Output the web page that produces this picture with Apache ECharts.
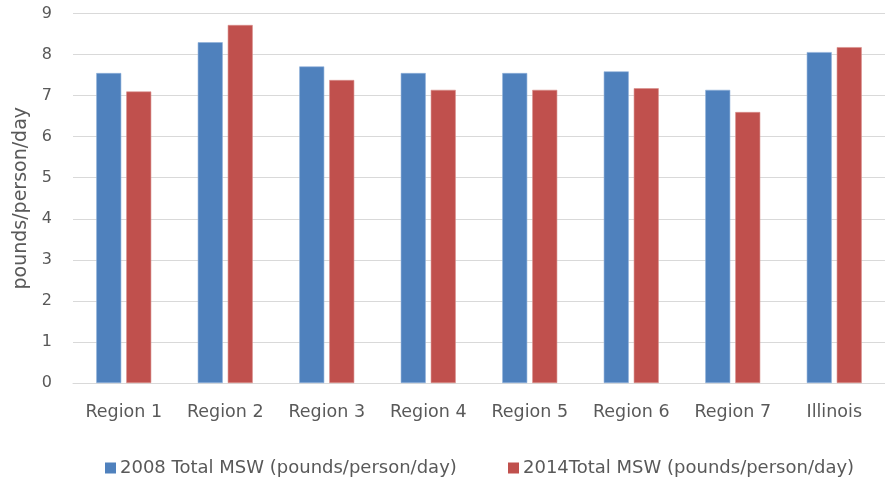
<!DOCTYPE html>
<html>
<head>
<meta charset="utf-8">
<script src="https://cdn.jsdelivr.net/npm/echarts@6/dist/echarts.min.js"></script>
<style>
  html, body { margin: 0; padding: 0; background: #fff; }
  #chart { width: 885px; height: 481px; }
</style>
</head>
<body>
<div id="chart"></div>
<script>
// Municipal solid waste generation by region
const categories = ['Region 1', 'Region 2', 'Region 3', 'Region 4', 'Region 5', 'Region 6', 'Region 7', 'Illinois'];
const msw2008 = [7.55, 8.30, 7.71, 7.55, 7.55, 7.59, 7.14, 8.06];
const msw2014 = [7.10, 8.72, 7.38, 7.14, 7.14, 7.18, 6.60, 8.18];
const seriesNames = ['2008 Total MSW (pounds/person/day)', '2014Total MSW (pounds/person/day)'];
const yTicks = [0, 1, 2, 3, 4, 5, 6, 7, 8, 9];

const FONT = 'DejaVu Sans';
const TEXT = '#595959';
const BLUE = '#4F81BD';
const RED = '#C0504D';

const chart = echarts.init(document.getElementById('chart'));

const legendCommon = {
  top: 454,
  itemWidth: 11,
  itemHeight: 11,
  icon: 'rect',
  itemGap: 4,
  itemStyle: { borderWidth: 0 },
  textStyle: { fontFamily: FONT, fontSize: 18, color: TEXT, padding: [0, 0, 0, -1] }
};

chart.setOption({
  animation: false,
  textStyle: { fontFamily: FONT },
  grid: { left: 73, right: -12, top: 13.5, bottom: 98 },
  legend: [
    Object.assign({ left: 100, data: [seriesNames[0]] }, legendCommon),
    Object.assign({ left: 503, data: [seriesNames[1]] }, legendCommon)
  ],
  xAxis: {
    type: 'category',
    data: categories,
    axisTick: { show: false },
    axisLine: { lineStyle: { color: '#D9D9D9', width: 1 } },
    axisLabel: { color: TEXT, fontFamily: FONT, fontSize: 17.5, margin: 20 }
  },
  yAxis: {
    type: 'value',
    min: yTicks[0],
    max: yTicks[yTicks.length - 1],
    interval: 1,
    name: 'pounds/person/day',
    nameLocation: 'middle',
    nameGap: 38,
    nameRotate: 90,
    nameTextStyle: { color: TEXT, fontFamily: FONT, fontSize: 19 },
    axisLine: { show: false },
    axisTick: { show: false },
    axisLabel: { color: TEXT, fontFamily: FONT, fontSize: 16, margin: 21 },
    splitLine: { lineStyle: { color: '#D9D9D9', width: 1 } }
  },
  series: [
    {
      name: seriesNames[0],
      type: 'bar',
      data: msw2008,
      barWidth: 25,
      barGap: '20%',
      itemStyle: { color: BLUE, borderColor: '#8FB0DA', borderWidth: 0.6 }
    },
    {
      name: seriesNames[1],
      type: 'bar',
      data: msw2014,
      barWidth: 25,
      barGap: '20%',
      itemStyle: { color: RED, borderColor: '#D98E8C', borderWidth: 0.6 }
    }
  ]
});
</script>
</body>
</html>
